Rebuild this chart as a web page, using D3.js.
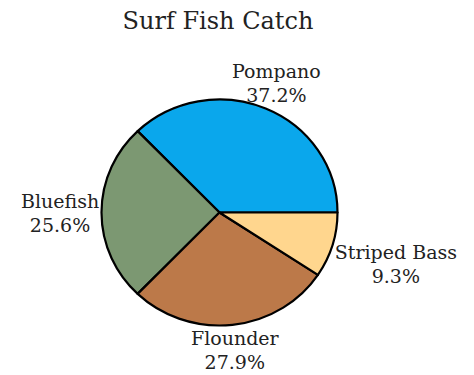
<!DOCTYPE html>
<html>
<head>
<meta charset="utf-8">
<script src="https://cdn.jsdelivr.net/npm/d3@7/dist/d3.min.js"></script>
<style>
  html, body { margin: 0; padding: 0; background: #fff; }
  svg { display: block; }
  text { font-family: "DejaVu Serif", serif; fill: #222; }
</style>
</head>
<body>
<svg id="chart" width="474" height="375"></svg>
<script>
// Surf fish catch, share of each species (%)
const categories = ["Pompano", "Bluefish", "Flounder", "Striped Bass"];
const shares = [37.2, 25.6, 27.9, 9.3];
const sliceColors = ["#0AA7EC", "#7C9872", "#BC7949", "#FFD68E"];
const chartTitle = "Surf Fish Catch";

const svg = d3.select("#chart");
const cx = 219.5, cy = 212.5;
const rx = 118, ry = 113;

svg.append("text")
  .attr("x", 218).attr("y", 29)
  .attr("text-anchor", "middle")
  .style("font-size", "24px")
  .text(chartTitle);

// Slices run counter-clockwise starting from 3 o'clock
const pie = d3.pie().sort(null)
  .startAngle(Math.PI / 2)
  .endAngle(Math.PI / 2 - 2 * Math.PI);
const arcs = pie(shares);
const arc = d3.arc().innerRadius(0).outerRadius(rx);

const g = svg.append("g")
  .attr("transform", `translate(${cx},${cy}) scale(1,${ry / rx})`);

g.selectAll("path")
  .data(arcs)
  .join("path")
  .attr("d", arc)
  .attr("fill", (d, i) => sliceColors[i])
  .attr("stroke", "#000")
  .attr("stroke-width", 2.2)
  .attr("stroke-linejoin", "round")
  .attr("vector-effect", "non-scaling-stroke");

// Labels sit just outside the rim, pushed outward along each slice's mid-angle
const labelK = 1.02;
arcs.forEach((d, i) => {
  const a = (d.startAngle + d.endAngle) / 2;
  const dx = Math.sin(a), dy = -Math.cos(a);
  const px = cx + rx * labelK * dx, py = cy + ry * labelK * dy;

  const t = svg.append("text")
    .attr("text-anchor", "middle")
    .style("font-size", "19px");
  t.append("tspan").attr("x", 0).attr("y", 0).text(categories[i]);
  t.append("tspan").attr("x", 0).attr("y", 24).text(shares[i].toFixed(1) + "%");

  const bb = t.node().getBBox();
  const hw = bb.width / 2, hh = bb.height / 2;
  const s = Math.min(Math.abs(dx) > 1e-6 ? hw / Math.abs(dx) : Infinity,
                     Math.abs(dy) > 1e-6 ? hh / Math.abs(dy) : Infinity);
  const ccx = px + s * dx, ccy = py + s * dy;
  const ox = ccx - (bb.x + hw), oy = ccy - (bb.y + hh);
  t.attr("transform", `translate(${ox},${oy})`);
});
</script>
</body>
</html>
